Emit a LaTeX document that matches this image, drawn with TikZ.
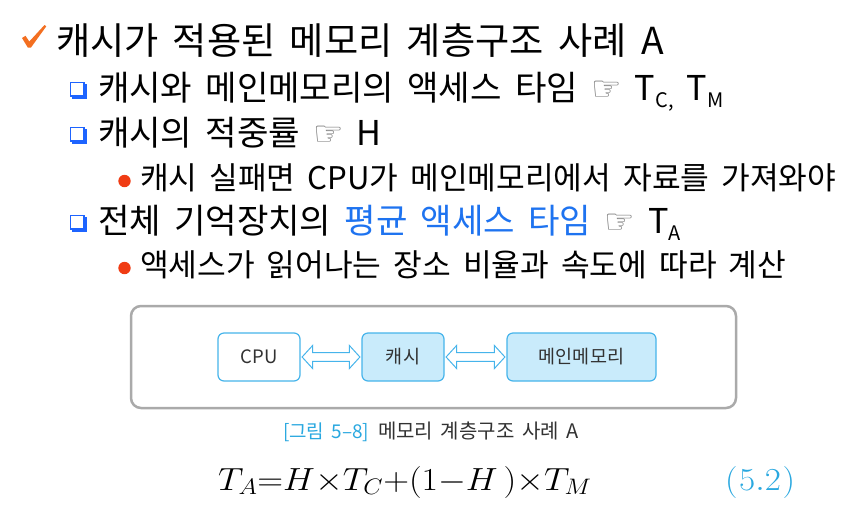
\RequirePackage{fix-cm}
\documentclass[tikz,border=0pt]{standalone}
\usepackage[no-math]{fontspec}
\setmainfont{Noto Sans CJK KR}[WordSpace=1.72]
\newfontfamily\symfont{DejaVu Sans}
\usetikzlibrary{calc}
\definecolor{chkorange}{RGB}{243,111,33}
\definecolor{sqblue}{RGB}{30,100,255}
\definecolor{dotred}{RGB}{240,60,20}
\definecolor{hlblue}{RGB}{30,115,240}
\definecolor{boxline}{RGB}{70,180,235}
\definecolor{boxfill}{RGB}{201,235,251}
\definecolor{outergray}{RGB}{170,170,170}
\definecolor{capblue}{RGB}{41,168,224}
\definecolor{handgray}{RGB}{120,120,120}
\definecolor{boxtext}{RGB}{50,50,50}
\newcommand\lsub[1]{\raisebox{-7pt}{\fontsize{20}{20}\selectfont #1}}
\newcommand\hand{{\symfont\fontsize{34}{34}\selectfont\color{handgray}☞}}
\newcommand\sqbullet[1]{%
  \fill[sqblue] (72,#1+2) rectangle (87,#1+17);
  \filldraw[fill=white,draw=sqblue,line width=1.2pt] (70.6,#1+0.6) rectangle (84,#1+14);}
\newcommand\dblarrow[2]{%
  \path[arrowbox] let \p1=(#1.east), \p2=(#2.west) in
  (\x1+1.5pt,\y1) -- (\x1+12pt,\y1+11.5pt) -- (\x1+12pt,\y1+4.3pt) --
  (\x2-12pt,\y1+4.3pt) -- (\x2-12pt,\y1+11.5pt) -- (\x2-1.5pt,\y1) --
  (\x2-12pt,\y1-11.5pt) -- (\x2-12pt,\y1-4.3pt) -- (\x1+12pt,\y1-4.3pt) --
  (\x1+12pt,\y1-11.5pt) -- cycle;}
\tikzset{
  txt/.style={anchor=base west,inner sep=0pt,outer sep=0pt},
  title/.style={txt,font=\fontsize{37.2}{42}\selectfont},
  lvtwo/.style={txt,font=\fontsize{34.2}{40}\selectfont},
  lvthree/.style={txt,font=\fontsize{31.2}{36}\selectfont},
  blk/.style={rounded corners=6pt,draw=boxline,line width=1.2pt,minimum height=48pt,
    text=boxtext,font=\fontsize{18.5}{20}\selectfont,inner sep=0pt},
  arrowbox/.style={draw=boxline,fill=white,line width=1pt,line join=miter},
}
\begin{document}
\begin{tikzpicture}[x=1pt,y=-1pt]
\useasboundingbox[fill=white] (0,0) rectangle (842,517);
% check mark
\fill[chkorange] (22,38) -- (25.5,35.8) -- (29.3,41.5) -- (44.5,25) -- (46.3,26.3)
  -- (31,47.5) -- (27.8,47.5) -- cycle;
\node[title] (t1) at (56,54) {캐시가 적용된 메모리 계층구조 사례 A};
% level 2 & 3
\sqbullet{82}
\node[lvtwo] (t2) at (98,100) {캐시와 메인메모리의 액세스 타임 \hand{} T\lsub{C,} T\lsub{M}};
\sqbullet{127}
\node[lvtwo] (t3) at (98,145.5) {캐시의 적중률 \hand{} H};
\fill[dotred] (124.5,181) circle (6.2);
\node[lvthree] (t4) at (140,189) {캐시 실패면 CPU가 메인메모리에서 자료를 가져와야};
\sqbullet{215}
\node[lvtwo] (t5) at (98,233) {전체 기억장치의 \textcolor{hlblue}{평균 액세스 타임} \hand{} T\lsub{A}};
\fill[dotred] (124.5,268) circle (6.2);
\node[lvthree] (t6) at (140,276) {액세스가 읽어나는 장소 비율과 속도에 따라 계산};
% diagram
\draw[outergray,line width=2.5pt,rounded corners=10pt] (131,306) rectangle (736,408);
\node[blk,fill=white,minimum width=82pt] (cpu) at (259,357) {CPU};
\node[blk,fill=boxfill,minimum width=82pt] (cache) at (403,357) {캐시};
\node[blk,fill=boxfill,minimum width=149pt] (mem) at (581.5,357) {메인메모리};
\dblarrow{cpu}{cache}
\dblarrow{cache}{mem}
% caption
\node[txt,font=\fontsize{19}{21}\selectfont,text=capblue] (cap1) at (283,438) {[그림 5–8]};
\node[txt,font=\fontsize{20}{22}\selectfont,text=boxtext] (cap2) at (378,438) {메모리 계층구조 사례 A};
% equation
\node[txt,font=\fontsize{32}{38}\selectfont] (eq) at (218,490)
  {\scalebox{1.118}[1]{$T_A{=}H{\times}T_C{+}(1{-}H\,){\times}T_M$}};
\node[txt,font=\fontsize{32}{38}\selectfont,text=capblue] (eqn) at (725,490)
  {\scalebox{1.1}[1]{$($\hspace{1.5pt}$5.2$\hspace{1.5pt}$)$}};
\end{tikzpicture}
\end{document}
